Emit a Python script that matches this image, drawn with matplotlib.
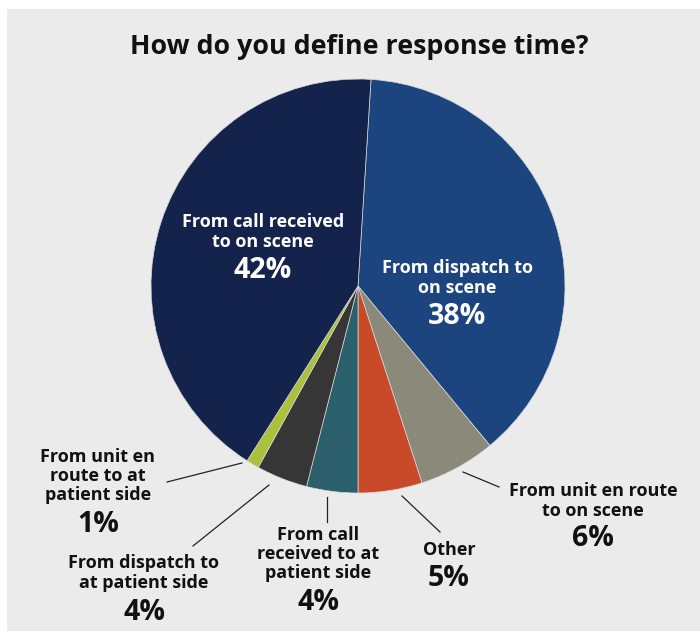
import matplotlib.pyplot as plt
from matplotlib.patches import Rectangle

plt.rcParams['font.family'] = ['Open Sans', 'DejaVu Sans']

W, H = 700, 637

title = 'How do you define response time?'
categories = ['From dispatch to\non scene',
              'From unit en route\nto on scene',
              'Other',
              'From call\nreceived to at\npatient side',
              'From dispatch to\nat patient side',
              'From unit en\nroute to at\npatient side',
              'From call received\nto on scene']
shares = [38, 6, 5, 4, 4, 1, 42]
colors = ['#1c4580', '#8a897a', '#c94a28', '#2c5f6c', '#363636', '#a9c13b', '#14234c']

# label anchor (x, y from top) for name and percentage, in pixels
label_pos = [(457, 278, 316), (593, 501, 539), (449, 550, 578),
             (318, 554, 603), (144, 573, 612), (98, 476, 525), (263, 232, 271)]
inside = [True, False, False, False, False, False, True]
# leader lines: start on the pie, end near the label
leaders = [None,
           ((463, 472), (499, 487)),
           ((402, 496), (440, 532)),
           ((327, 497), (327, 522)),
           ((269, 485), (193, 546)),
           ((242, 463), (167, 482)),
           None]

fig = plt.figure(figsize=(W / 100, H / 100), dpi=100)
fig.patch.set_facecolor('white')
ax = fig.add_axes([0, 0, 1, 1])

def Y(y):
    return H - y

ax.add_patch(Rectangle((7, Y(631)), W - 7, 631 - 9, facecolor='#ebebeb',
                       edgecolor='none', zorder=0))

ax.pie(shares, colors=colors, startangle=86.4, counterclock=False,
       center=(358, Y(286)), radius=207,
       wedgeprops=dict(edgecolor='#d8d8d8', linewidth=0.5), frame=True)
ax.set_xlim(0, W)
ax.set_ylim(0, H)
ax.set_aspect('equal')
ax.axis('off')

ax.text(359, Y(47), title, ha='center', va='center', fontsize=19.3,
        fontweight='bold', color='#111111')

for name, val, (x, yn, yp), ins in zip(categories, shares, label_pos, inside):
    c = 'white' if ins else '#111111'
    ax.text(x, Y(yn), name, ha='center', va='center', fontsize=13,
            fontweight='bold', color=c, linespacing=1.08)
    ax.text(x, Y(yp), f'{val}%', ha='center', va='center', fontsize=20.5,
            fontweight='bold', color=c)

for seg in leaders:
    if seg is None:
        continue
    (x0, y0), (x1, y1) = seg
    ax.plot([x0, x1], [Y(y0), Y(y1)], color='#222222', linewidth=0.9)

fig.savefig('out.png', dpi=100)
